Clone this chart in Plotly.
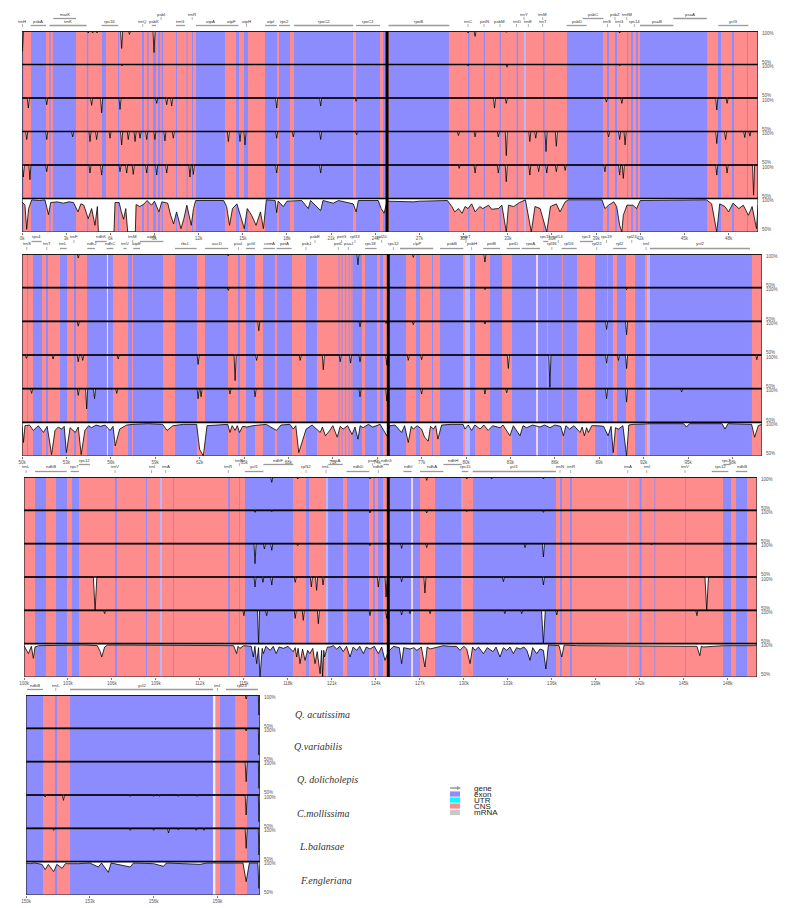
import plotly.graph_objects as go

# window geometry (reference pixels); body margin is removed by post_script
W, H = 800, 908
OX, OY = 0, 0
FW, FH = W - 2 * OX, H - 2 * OY

PINK = "#FF8C8C"
BLUE = "#8C8CFF"
LIGHT = "#B8B8FF"
PALE = "#EEEEFF"

SPECIES = ["Q. acutissima", "Q.variabilis", "Q. dolicholepis", "C.mollissima", "L.balansae", "F.engleriana"]

# ---------------- exon / light regions (kb) ----------------
P1_EXON = [(0.0, 0.1), (0.61, 1.63), (1.85, 1.95), (2.1, 3.67), (4.4, 4.5), (5.43, 5.7), (6.52, 6.6), (8.15, 8.29),
           (8.5, 8.6), (8.9, 9.1), (9.24, 9.38), (9.48, 9.58), (10.46, 10.53), (11.18, 11.25), (11.55, 11.62),
           (11.82, 13.79), (14.54, 14.74), (15.08, 15.35), (16.51, 17.32), (17.46, 18.2), (18.48, 22.49),
           (22.69, 24.32), (24.52, 24.73), (24.93, 29.0), (30.3, 30.4), (31.37, 31.45), (32.45, 32.53),
           (33.6, 33.7), (35.4, 35.5), (37.02, 39.47), (39.74, 39.88), (40.28, 40.42), (41.1, 41.18),
           (41.37, 41.51), (41.71, 41.85), (41.98, 46.54), (47.28, 47.49), (48.23, 48.37), (49.25, 49.32)]
P1_LIGHT = [(34.1, 34.24)]
P1_PALE = []

P2_EXON = [(50.34, 50.41), (50.74, 51.35), (51.62, 51.76), (52.57, 53.04), (53.51, 53.65), (54.39, 55.74),
           (55.8, 56.15), (57.16, 57.43), (57.5, 59.53), (60.34, 61.82), (62.36, 63.92), (64.59, 64.73),
           (65.14, 65.74), (66.28, 67.09), (67.23, 68.24), (69.19, 69.93), (71.39, 71.46), (71.59, 71.66),
           (71.83, 71.9), (72.06, 72.13), (72.26, 72.33), (72.36, 72.97), (73.18, 73.99), (74.19, 74.39),
           (74.86, 75.95), (76.62, 76.89), (77.7, 77.77), (78.24, 79.8), (80.27, 80.61), (81.62, 82.43),
           (83.11, 84.75), (84.85, 85.47), (85.54, 86.49), (86.55, 87.5), (88.72, 89.53), (89.59, 89.93),
           (90.2, 90.81), (91.42, 92.09), (92.43, 99.32)]
P2_LIGHT = [(79.93, 80.27), (92.23, 92.43)]
P2_PALE = [(55.74, 55.8), (84.75, 84.85)]

P3_EXON = [(100.75, 101.5), (102.18, 102.93), (103.27, 103.75), (106.21, 106.34), (108.32, 108.39),
           (110.16, 110.23), (113.92, 114.05), (114.67, 114.73), (115.07, 118.35), (119.24, 119.44),
           (120.74, 121.76), (122.03, 123.53), (123.81, 123.94), (124.15, 124.49), (124.97, 126.42),
           (126.52, 127.01), (128.04, 129.88), (130.63, 136.29), (136.56, 136.7), (137.24, 137.38),
           (141.99, 142.13), (143.0, 143.06), (145.09, 145.16), (147.68, 148.23), (148.57, 149.32)]
P3_LIGHT = [(109.28, 109.41), (120.6, 120.74), (141.17, 141.24), (129.84, 129.9)]
P3_PALE = [(126.42, 126.52)]

P4_EXON = [(150.0, 150.8), (151.36, 151.46), (152.07, 158.79), (159.12, 159.83), (160.39, 161.0)]
P4_LIGHT = []
P4_PALE = [(158.79, 158.9)]

# ---------------- identity curves: dips (kb, identity%[, half-width]) ----------------
P1_T1 = [(0.03, 70), (4.5, 97), (4.8, 97), (5.1, 97), (6.77, 74), (7.3, 95), (8.97, 68), (30.3, 97), (30.78, 92),
         (32.9, 98), (40.6, 97)]
P1_T2 = [(6.8, 98), (30.3, 98), (32.95, 96), (40.6, 98)]
P1_T3 = [(0.43, 85), (1.68, 90), (4.73, 89), (5.41, 78), (6.66, 83), (9.15, 92), (9.83, 90), (10.17, 88),
         (17.3, 85), (20.29, 88), (22.7, 95), (32.1, 85), (32.9, 92), (39.7, 94), (40.75, 92), (47.2, 82),
         (47.9, 92)]
P1_T4 = [(0.32, 88), (1.68, 88), (3.44, 92), (4.62, 85), (5.07, 88), (5.98, 90), (6.77, 80), (7.22, 88),
         (7.68, 85), (8.02, 90), (8.47, 88), (9.03, 88), (9.71, 86), (10.28, 90), (14.02, 85), (14.81, 85),
         (15.15, 80), (17.3, 90), (18.43, 92), (20.29, 88), (22.73, 95), (29.65, 94), (30.78, 92), (32.36, 92),
         (32.9, 64), (34.5, 85), (34.9, 90), (35.6, 70), (36.3, 78), (39.85, 92), (40.6, 88), (40.97, 80),
         (47.2, 82), (47.8, 88), (49.1, 91), (49.45, 93)]
P1_T5 = [(0.09, 82), (0.54, 78), (1.68, 90), (4.62, 88), (5.41, 85), (6.66, 90), (7.11, 88), (7.56, 86),
         (8.47, 88), (9.15, 85), (9.83, 88), (11.41, 82), (11.64, 86), (17.3, 88), (20.29, 88), (29.7, 95),
         (30.78, 88), (32.36, 88), (32.9, 75), (34.5, 85), (35.1, 90), (35.65, 88), (36.3, 90), (36.9, 92),
         (39.6, 90), (40.6, 85), (40.85, 80), (47.2, 85), (47.9, 88), (49.7, 55)]
# bottom track: explicit polyline (kb, identity%)
P1_T6 = [(0, 95), (0.2, 90), (0.32, 54), (0.45, 85), (0.66, 98), (1.2, 97), (1.56, 98), (1.8, 76), (1.95, 94),
         (2.4, 95), (2.8, 93), (3.2, 95), (3.5, 94), (3.8, 80), (4.0, 92), (4.2, 90), (4.5, 70), (4.73, 85),
         (4.96, 60), (5.12, 88), (5.19, 50), (6.25, 50), (6.32, 94), (6.6, 94), (6.75, 80), (6.9, 69),
         (7.05, 85), (7.18, 50), (7.7, 50), (7.75, 91), (8.0, 88), (8.3, 92), (8.5, 97), (8.8, 90), (9.0, 96),
         (9.3, 80), (9.5, 95), (9.9, 93), (10.1, 75), (10.3, 62), (10.5, 80), (10.8, 55), (11.0, 70),
         (11.2, 90), (11.5, 60), (11.65, 85), (11.8, 97), (12.5, 97), (13.0, 96), (13.7, 97), (13.9, 88),
         (14.1, 60), (14.3, 85), (14.6, 92), (14.9, 70), (15.1, 55), (15.3, 85), (15.6, 75), (15.9, 60),
         (16.2, 80), (16.4, 55), (16.6, 98), (17.2, 97), (17.3, 79), (17.4, 96), (17.75, 88), (18.0, 96),
         (19.0, 97), (19.45, 85), (19.6, 97), (20.29, 82), (20.45, 97), (21.15, 93), (21.5, 97), (22.5, 92),
         (22.7, 80), (22.85, 97), (24.2, 97), (24.4, 85), (24.6, 78), (24.8, 96), (26.6, 95), (27.0, 96),
         (28.9, 97), (29.2, 88), (29.4, 80), (29.65, 85), (29.9, 78), (30.1, 88), (30.3, 85), (30.55, 92),
         (30.78, 80), (31.1, 88), (31.3, 85), (31.7, 90), (31.9, 84), (32.36, 85), (32.6, 90), (32.9, 50),
         (33.05, 90), (33.4, 88), (33.8, 94), (34.2, 98), (34.6, 50), (34.85, 88), (35.2, 85), (35.65, 50),
         (35.9, 88), (36.3, 92), (36.55, 80), (36.9, 95), (37.1, 98), (39.4, 98), (39.6, 85), (39.85, 90),
         (40.2, 95), (40.4, 88), (40.6, 60), (40.75, 50), (40.85, 75), (41.1, 90), (41.5, 90), (41.75, 85),
         (42.0, 97), (46.5, 98), (46.85, 92), (47.2, 50), (47.4, 92), (47.75, 88), (48.0, 80), (48.3, 93),
         (48.7, 85), (49.0, 90), (49.35, 75), (49.6, 88), (49.9, 55), (50.0, 90)]

P2_T1 = [(53.8, 94), (63.94, 97), (72.7, 84), (76.44, 95), (81.28, 88)]
P2_T2 = [(61.9, 98), (63.94, 96), (81.28, 97), (90.85, 97)]
P2_T3 = [(53.8, 93), (66.0, 86), (72.84, 92), (74.6, 97), (76.44, 95), (81.28, 96), (89.5, 88), (90.85, 80)]
P2_T4 = [(50.3, 95), (52.1, 94), (53.8, 90), (54.1, 92), (56.5, 94), (61.9, 86), (64.4, 62), (65.85, 92),
         (68.8, 92), (70.36, 78), (71.5, 90), (72.2, 88), (72.84, 90), (74.65, 85), (76.1, 92), (77.0, 93),
         (82.86, 80), (85.67, 52), (89.5, 88), (90.3, 92), (90.85, 80), (99.65, 93)]
P2_T5 = [(50.65, 93), (53.8, 90), (54.37, 70), (54.9, 85), (56.4, 93), (61.9, 85), (62.1, 88), (64.05, 92),
         (65.75, 88), (72.84, 88), (74.65, 82), (77.0, 92), (81.28, 92), (82.75, 94), (89.5, 85), (90.85, 80),
         (94.57, 95)]
P2_T6 = [(50.0, 95), (50.1, 70), (50.2, 95), (50.5, 96), (50.77, 88), (51.1, 95), (51.45, 85), (51.7, 94),
         (52.0, 52), (52.23, 88), (52.45, 93), (52.68, 90), (52.85, 94), (53.0, 55), (53.25, 92), (53.6, 85),
         (53.8, 93), (54.0, 52), (54.25, 88), (54.5, 95), (54.7, 92), (55.0, 96), (55.3, 94), (55.6, 96),
         (55.95, 88), (56.15, 94), (56.3, 65), (56.6, 90), (57.07, 96), (57.5, 97), (58.5, 98), (59.5, 97),
         (59.8, 88), (60.2, 95), (60.9, 97), (61.8, 97), (62.0, 60), (62.25, 50), (62.5, 95), (63.15, 96),
         (63.9, 97), (64.05, 85), (64.2, 95), (64.4, 88), (64.55, 95), (64.7, 85), (64.9, 94), (65.2, 93),
         (65.6, 95), (66.5, 97), (67.2, 88), (67.5, 96), (68.1, 97), (68.33, 90), (68.5, 95), (68.7, 55),
         (68.9, 70), (69.2, 90), (69.6, 96), (70.15, 85), (70.3, 93), (70.5, 80), (70.8, 88), (71.0, 95),
         (71.3, 78), (71.5, 94), (71.7, 90), (72.0, 95), (72.3, 82), (72.5, 93), (72.7, 75), (72.85, 95),
         (73.05, 92), (73.4, 97), (73.7, 93), (74.2, 97), (74.65, 80), (74.85, 95), (75.2, 96), (75.65, 85),
         (75.85, 95), (76.1, 70), (76.3, 94), (76.44, 90), (76.7, 95), (77.0, 90), (77.2, 78), (77.45, 72),
         (77.6, 94), (77.8, 90), (77.95, 95), (78.1, 75), (78.35, 96), (79.0, 97), (79.8, 97), (79.93, 90),
         (80.15, 96), (80.38, 88), (80.6, 96), (80.95, 90), (81.2, 96), (81.5, 88), (81.8, 95), (82.3, 92),
         (82.5, 96), (82.75, 88), (82.97, 80), (83.2, 95), (83.65, 80), (83.85, 95), (84.1, 92), (84.5, 96),
         (85.0, 93), (85.3, 96), (85.67, 92), (86.0, 96), (86.4, 94), (86.58, 80), (86.75, 95), (87.0, 90),
         (87.3, 95), (87.7, 85), (87.85, 93), (88.0, 80), (88.15, 92), (88.27, 85), (88.5, 95), (88.9, 95),
         (89.3, 94), (89.6, 80), (89.8, 94), (89.95, 55), (90.1, 92), (90.3, 90), (90.6, 95), (90.85, 50),
         (91.0, 96), (91.3, 97), (92.5, 98), (94.7, 98), (94.9, 93), (95.1, 98), (97.3, 98), (97.5, 90),
         (97.7, 98), (99.3, 97), (99.5, 78), (99.75, 95), (100.0, 97)]

P3_T1 = [(116.9, 92), (118.67, 97), (123.6, 97), (127.47, 95), (130.2, 97), (131.9, 97), (135.43, 97)]
P3_T2 = [(115.76, 97), (116.9, 98), (123.6, 96), (127.47, 96), (130.2, 98), (135.43, 97)]
P3_T3 = [(115.76, 70), (116.4, 92), (116.9, 90), (118.67, 97), (123.6, 97), (125.76, 93), (127.47, 94),
         (134.18, 94), (135.43, 80), (142.8, 98)]
P3_T4 = [(104.85, 50, 0.12), (115.76, 85), (116.3, 92), (116.9, 88), (118.5, 92), (119.6, 85), (119.96, 80),
         (120.4, 88), (124.17, 85), (124.7, 70), (125.76, 93), (127.35, 76), (132.7, 93), (135.43, 88),
         (146.57, 50, 0.12)]
P3_T5 = [(105.5, 95), (115.0, 92), (116.0, 50), (116.55, 92), (118.5, 88), (119.05, 85), (120.08, 80),
         (123.6, 92), (124.74, 88), (125.76, 93), (126.33, 95), (127.7, 95), (132.8, 95), (133.95, 95),
         (135.43, 50, 0.13), (136.34, 93), (145.9, 92)]
P3_T6 = [(100.0, 97), (100.3, 85), (100.5, 96), (100.64, 78), (100.75, 95), (101.0, 97), (104.0, 98),
         (105.0, 97), (105.2, 88), (105.3, 80), (105.5, 95), (105.7, 98), (114.3, 97), (114.5, 85), (114.6, 96),
         (114.73, 93), (115.0, 97), (115.5, 96), (115.64, 80), (115.75, 96), (115.87, 70), (116.0, 94),
         (116.1, 50), (116.25, 93), (116.33, 85), (116.5, 96), (116.8, 90), (117.0, 96), (117.2, 85),
         (117.4, 95), (117.7, 93), (118.0, 96), (118.37, 88), (118.5, 94), (118.6, 80), (118.7, 93),
         (118.83, 70), (119.0, 92), (119.17, 75), (119.35, 90), (119.5, 85), (119.7, 93), (119.85, 70),
         (120.0, 88), (120.2, 55), (120.3, 90), (120.37, 50), (120.45, 90), (120.5, 80), (120.7, 95),
         (120.87, 95), (121.1, 97), (121.33, 92), (121.55, 96), (121.78, 88), (122.0, 96), (122.24, 80),
         (122.45, 95), (122.7, 90), (122.9, 96), (123.15, 85), (123.35, 95), (123.6, 92), (123.9, 96),
         (124.17, 85), (124.4, 95), (124.62, 75), (124.85, 88), (125.2, 96), (125.6, 94), (125.76, 70),
         (125.9, 94), (126.33, 92), (126.6, 94), (126.8, 90), (127.1, 95), (127.35, 65), (127.5, 95),
         (127.7, 92), (128.15, 95), (128.6, 97), (129.06, 96), (129.5, 96), (129.74, 90), (130.0, 96),
         (130.2, 92), (130.43, 70), (130.6, 95), (130.77, 90), (131.0, 95), (131.34, 85), (131.6, 94),
         (132.0, 88), (132.2, 95), (132.47, 80), (132.7, 94), (132.93, 90), (133.15, 95), (133.38, 85),
         (133.6, 94), (133.84, 92), (134.1, 95), (134.3, 90), (134.52, 75), (134.7, 94), (134.97, 85),
         (135.2, 92), (135.43, 90), (135.6, 62), (135.77, 98), (136.5, 97), (136.68, 80), (136.85, 98),
         (137.7, 97), (139.75, 97), (141.8, 96), (143.27, 97), (145.9, 96), (146.1, 82), (146.2, 96),
         (146.34, 95), (147.7, 97), (149.75, 97), (150.0, 98)]

P4_T1 = [(160.35, 94), (160.95, 70, 0.03)]
P4_T2 = [(160.35, 96), (160.95, 60, 0.03)]
P4_T3 = [(160.35, 70), (160.95, 60, 0.03)]
P4_T4 = [(150.9, 97), (151.76, 92), (154.9, 98), (156.0, 98), (156.27, 98), (157.16, 98), (158.05, 98),
         (160.35, 70), (160.95, 60, 0.03)]
P4_T5 = [(151.3, 97), (154.9, 97), (156.0, 97), (156.7, 93), (157.16, 98), (158.0, 97), (158.37, 97),
         (160.35, 70), (160.95, 60, 0.03)]
P4_T6 = [(150.0, 98), (150.2, 97), (150.4, 98), (150.75, 96), (150.9, 88), (151.05, 96), (151.3, 85),
         (151.45, 96), (151.7, 90), (151.85, 97), (152.46, 97), (153.0, 98), (153.4, 92), (153.55, 98),
         (153.87, 84), (154.0, 98), (154.9, 92), (155.05, 98), (156.0, 97), (156.46, 93), (156.6, 98),
         (157.5, 97), (158.18, 96), (158.5, 98), (159.2, 98), (160.2, 98), (160.35, 70), (160.5, 98),
         (160.9, 98), (160.95, 60), (161.0, 95)]

# ---------------- tick labels (kb) ----------------
P1_TICKS = [0, 3, 6, 9, 12, 15, 18, 21, 24, 27, 30, 33, 36, 39, 42, 45, 48]
P2_TICKS = [50, 53, 56, 59, 62, 65, 68, 71, 74, 77, 80, 83, 86, 89, 92, 95, 98]
P3_TICKS = [100, 103, 106, 109, 112, 115, 118, 121, 124, 127, 130, 133, 136, 139, 142, 145, 148]
P4_TICKS = [150, 153, 156, 159]

# ---------------- gene annotations (name, start kb, end kb, row) ----------------
P1_GENES = [("trnH", 0.03, 0.03, 0), ("psbA", 0.59, 1.63, 0), ("trnK", 1.86, 4.39, 0), ("matK", 2.13, 3.67, 1),
            ("rps16", 5.41, 6.54, 0), ("trnQ", 8.2, 8.2, 0), ("psbK", 8.81, 9.1, 0), ("psbI", 9.45, 9.45, 1),
            ("trnG", 10.46, 11.07, 0), ("trnR", 11.56, 11.56, 1), ("atpA", 11.82, 13.79, 0),
            ("atpF", 13.79, 14.7, 0), ("atpH", 15.25, 15.25, 0), ("atpI", 16.51, 17.3, 0),
            ("rps2", 17.46, 18.2, 0), ("rpoC2", 18.48, 22.5, 0), ("rpoC1", 22.69, 24.32, 0),
            ("rpoB", 24.9, 29.03, 0), ("trnC", 30.3, 30.3, 0), ("petN", 31.39, 31.39, 0),
            ("psbM", 32.47, 32.47, 0), ("trnD", 33.6, 33.6, 0), ("trnY", 34.1, 34.1, 1), ("trnE", 34.4, 34.4, 0),
            ("trnT", 35.37, 35.37, 0), ("trnM", 35.37, 35.37, 1), ("psbD", 37.0, 38.36, 0),
            ("psbC", 38.09, 39.5, 1), ("trnS", 39.77, 39.77, 0), ("psbZ", 40.29, 40.29, 1),
            ("trnG", 40.6, 40.6, 0), ("trnfM", 41.08, 41.08, 1), ("rps14", 41.6, 41.6, 0),
            ("psaB", 41.98, 44.25, 0), ("psaA", 44.25, 46.52, 1), ("ycf3", 47.3, 49.35, 0)]
P2_GENES = [("trnS", 50.32, 50.32, 0), ("rps4", 50.65, 51.33, 1), ("trnT", 51.67, 51.67, 0),
            ("trnL", 52.57, 53.02, 0), ("trnF", 53.51, 53.51, 1), ("ndhJ", 54.41, 54.93, 0),
            ("ndhK", 54.93, 55.72, 1), ("ndhC", 55.72, 56.17, 0), ("trnV", 56.85, 57.07, 0),
            ("trnM", 57.48, 57.48, 1), ("atpE", 57.52, 57.97, 0), ("atpB", 57.97, 59.55, 1),
            ("rbcL", 60.34, 61.8, 0), ("accD", 62.36, 63.94, 0), ("psaI", 64.62, 64.62, 0),
            ("ycf4", 65.14, 65.74, 0), ("cemA", 66.31, 67.09, 0), ("petA", 67.2, 68.22, 0),
            ("psbJ", 69.19, 69.19, 0), ("psbE", 69.8, 69.8, 1), ("petL", 71.37, 71.37, 0),
            ("petG", 71.6, 71.6, 1), ("psaJ", 72.05, 72.05, 0), ("rpl33", 72.5, 72.5, 1),
            ("rps18", 73.18, 73.96, 0), ("rpl20", 74.3, 74.3, 1), ("rps12", 75.09, 75.09, 0),
            ("clpP", 75.54, 77.79, 0), ("psbB", 78.24, 79.82, 0), ("psbT", 80.0, 80.0, 1),
            ("psbH", 80.38, 80.38, 0), ("petB", 81.17, 82.3, 0), ("petD", 82.75, 83.65, 0),
            ("rpoA", 83.76, 85.0, 0), ("rps11", 85.22, 85.56, 1), ("rpl36", 85.8, 85.8, 0),
            ("rpl14", 86.24, 86.24, 1), ("rpl16", 86.46, 87.48, 0), ("rps3", 87.7, 88.6, 1),
            ("rpl22", 88.83, 88.83, 0), ("rps19", 89.5, 89.5, 1), ("rpl2", 89.95, 90.85, 0),
            ("rpl23", 91.2, 91.2, 1), ("trnI", 92.16, 92.16, 0), ("ycf2", 92.43, 99.19, 0)]
P3_GENES = [("trnL", 100.14, 100.14, 0), ("ndhB", 100.75, 102.91, 0), ("rps7", 103.18, 103.75, 0),
            ("rps12", 103.75, 104.5, 1), ("trnV", 106.21, 106.21, 0), ("trnI", 108.7, 108.7, 0),
            ("trnA", 109.66, 109.66, 0), ("trnR", 113.94, 113.94, 0), ("trnN", 114.69, 114.69, 1),
            ("ycf1", 115.07, 116.33, 0), ("ndhF", 116.33, 118.37, 1), ("rpl32", 119.24, 119.24, 0),
            ("trnL", 120.6, 120.6, 0), ("ccsA", 120.76, 121.74, 1), ("ndhD", 122.0, 123.56, 0),
            ("psaC", 123.78, 123.78, 1), ("ndhE", 124.17, 124.17, 0), ("ndhG", 124.51, 124.9, 1),
            ("ndhI", 125.88, 126.45, 0), ("ndhA", 127.01, 128.61, 0), ("ndhH", 128.61, 129.86, 1),
            ("rps15", 129.86, 130.31, 0), ("ycf1", 130.61, 136.29, 0), ("trnN", 136.56, 136.56, 0),
            ("trnR", 137.29, 137.29, 0), ("trnA", 141.18, 141.18, 0), ("trnI", 142.48, 142.48, 0),
            ("trnV", 145.09, 145.09, 0), ("rps12", 146.91, 148.05, 0), ("rps7", 147.7, 148.2, 1),
            ("ndhB", 148.55, 149.34, 0)]
P4_GENES = [("ndhB", 150.05, 150.8, 0), ("trnL", 151.4, 151.4, 0), ("ycf2", 152.07, 158.79, 0),
            ("trnI", 159.0, 159.0, 0), ("rpl23", 159.4, 160.9, 0)]

LEGEND_ITEMS = ["gene", "exon", "UTR", "CNS", "mRNA"]
LEGEND_COLORS = ["#9A9A9A", "#8C8CFF", "#00FFFF", "#FF8C8C", "#C8C8C8"]

# ---------------- layout geometry (window pixels) ----------------
PANELS = [
    dict(k=(0, 50), px=(22, 758), py=(31, 232), exon=P1_EXON, light=P1_LIGHT, pale=P1_PALE,
         dips=[P1_T1, P1_T2, P1_T3, P1_T4, P1_T5], poly=P1_T6, ticks=P1_TICKS, genes=P1_GENES, sep=24.8, hw=0.07),
    dict(k=(50, 100), px=(22, 762), py=(254, 456), exon=P2_EXON, light=P2_LIGHT, pale=P2_PALE,
         dips=[P2_T1, P2_T2, P2_T3, P2_T4, P2_T5], poly=P2_T6, ticks=P2_TICKS, genes=P2_GENES, sep=74.75, hw=0.07),
    dict(k=(100, 150), px=(24, 757), py=(477, 677), exon=P3_EXON, light=P3_LIGHT, pale=P3_PALE,
         dips=[P3_T1, P3_T2, P3_T3, P3_T4, P3_T5], poly=P3_T6, ticks=P3_TICKS, genes=P3_GENES, sep=124.85, hw=0.07),
    dict(k=(150, 161), px=(26, 260), py=(695, 895), exon=P4_EXON, light=P4_LIGHT, pale=P4_PALE,
         dips=[P4_T1, P4_T2, P4_T3, P4_T4, P4_T5], poly=P4_T6, ticks=P4_TICKS, genes=P4_GENES, sep=None, hw=0.05),
]


def X(px):
    return (px - OX) / FW


def Y(py):
    return 1 - (py - OY) / FH


fig = go.Figure()
shapes = []
annotations = []
layout_axes = {}
SMALL = dict(size=4.5, color="#555", family="Liberation Sans")


def track_y(t, v):
    return (5 - t) + (v - 50) / 50.0


for i, P in enumerate(PANELS):
    n = "" if i == 0 else str(i + 1)
    xa, ya = "x" + n, "y" + n
    k0, k1 = P["k"]
    x0, x1 = P["px"]
    y0, y1 = P["py"]
    layout_axes["xaxis" + n] = dict(domain=[X(x0), X(x1)], range=[k0, k1], anchor=ya, showgrid=False,
                                    zeroline=False, showline=False, ticks="outside", ticklen=2, tickwidth=0.6,
                                    tickcolor="#777", tickvals=P["ticks"],
                                    ticktext=[f"{t}k" for t in P["ticks"]], tickfont=SMALL, automargin=False)
    layout_axes["yaxis" + n] = dict(domain=[Y(y1), Y(y0)], range=[0, 6], anchor=xa, showgrid=False,
                                    zeroline=False, showline=False, showticklabels=False, fixedrange=True,
                                    automargin=False)
    # background
    shapes.append(dict(type="rect", xref=xa, yref=ya, x0=k0, x1=k1, y0=0, y1=6, fillcolor=PINK,
                       line=dict(width=0), layer="below"))
    for key, col in (("exon", BLUE), ("light", LIGHT), ("pale", PALE)):
        for (a, b) in P[key]:
            shapes.append(dict(type="rect", xref=xa, yref=ya, x0=a, x1=b, y0=0, y1=6, fillcolor=col,
                               line=dict(width=0), layer="below"))

    # identity curves with white area above them
    for t in range(6):
        if t < 5:
            pts = [(k0, 100)]
            for d in sorted(P["dips"][t]):
                p, v = d[0], d[1]
                hw = d[2] if len(d) > 2 else P["hw"]
                pts += [(p - hw, 100), (p, v), (p + hw, 100)]
            pts.append((k1, 100))
        else:
            pts = list(P["poly"])
        xs = [max(k0, min(k1, p[0])) for p in pts]
        ys = [track_y(t, p[1]) for p in pts]
        top = track_y(t, 100)
        fig.add_trace(go.Scatter(x=xs + [xs[-1], xs[0]], y=ys + [top, top], xaxis=xa, yaxis=ya,
                                 mode="lines", fill="toself", fillcolor="white", line=dict(width=0),
                                 hoverinfo="skip", showlegend=False))
        fig.add_trace(go.Scatter(x=xs, y=ys, xaxis=xa, yaxis=ya, mode="lines",
                                 line=dict(color="black", width=0.8), hoverinfo="skip", showlegend=False))

    # track separators and frame
    for j in range(1, 7):
        shapes.append(dict(type="line", xref=xa, yref=ya, x0=k0, x1=k1, y0=j, y1=j,
                           line=dict(color="black", width=1.6)))
    shapes.append(dict(type="rect", xref=xa, yref=ya, x0=k0, x1=k1, y0=0, y1=6,
                       line=dict(color="#222", width=1.2)))
    if P["sep"] is not None:
        shapes.append(dict(type="line", xref=xa, yref=ya, x0=P["sep"], x1=P["sep"], y0=0, y1=6,
                           line=dict(color="black", width=3)))

    # right percent labels
    th = (y1 - y0) / 6.0
    for j in range(7):
        yy = y0 + j * th
        if j < 6:
            annotations.append(dict(text="100%", x=X(x1 + 2), y=Y(yy + 2.3), xref="paper", yref="paper",
                                    xanchor="left", yanchor="middle", showarrow=False, font=SMALL))
        if j > 0:
            annotations.append(dict(text="50%", x=X(x1 + 2), y=Y(yy - 2.3), xref="paper", yref="paper",
                                    xanchor="left", yanchor="middle", showarrow=False, font=SMALL))

    # gene annotations
    for (name, a, b, row) in P["genes"]:
        bar_y = y0 - 5.5 - 7 * row
        lab_y = y0 - 10 - 7 * row
        if b - a > 0.2:
            shapes.append(dict(type="line", xref=xa, yref="paper", x0=a, x1=b, y0=Y(bar_y), y1=Y(bar_y),
                               line=dict(color="#9A9A9A", width=1.3)))
        else:
            shapes.append(dict(type="line", xref=xa, yref="paper", x0=a, x1=a, y0=Y(bar_y - 1.5),
                               y1=Y(bar_y + 1.5), line=dict(color="#9A9A9A", width=0.8)))
        annotations.append(dict(text=name, x=(a + b) / 2, y=Y(lab_y), xref=xa, yref="paper",
                                xanchor="center", yanchor="middle", showarrow=False,
                                font=dict(size=4.3, color="#333", family="Liberation Sans")))

# species labels
SPECIES_Y = [714, 746, 779, 813, 846, 880]
SPECIES_X = [322, 318, 327, 323, 322, 326]
for name, sx, sy in zip(SPECIES, SPECIES_X, SPECIES_Y):
    annotations.append(dict(text=f"<i>{name}</i>", x=X(sx), y=Y(sy), xref="paper", yref="paper",
                            xanchor="center", yanchor="middle", showarrow=False,
                            font=dict(size=10, color="#333", family="Liberation Serif")))

# legend
LEG_Y = [788, 794, 800, 806, 812.5]
for k, (lab, col, ly) in enumerate(zip(LEGEND_ITEMS, LEGEND_COLORS, LEG_Y)):
    if k == 0:
        path = (f"M {X(450)},{Y(ly - 0.8)} L {X(457)},{Y(ly - 0.8)} L {X(457)},{Y(ly - 2)} "
                f"L {X(461)},{Y(ly)} L {X(457)},{Y(ly + 2)} L {X(457)},{Y(ly + 0.8)} L {X(450)},{Y(ly + 0.8)} Z")
        shapes.append(dict(type="path", xref="paper", yref="paper", path=path, fillcolor=col,
                           line=dict(width=0)))
    else:
        shapes.append(dict(type="rect", xref="paper", yref="paper", x0=X(450), x1=X(460),
                           y0=Y(ly + 2.6), y1=Y(ly - 2.6), fillcolor=col, line=dict(width=0)))
    annotations.append(dict(text=lab, x=X(472), y=Y(ly), xref="paper", yref="paper", xanchor="left",
                            yanchor="middle", showarrow=False,
                            font=dict(size=8, color="#222", family="Liberation Sans")))

fig.update_layout(width=FW, height=FH, margin=dict(l=0, r=0, t=0, b=0), paper_bgcolor="white",
                  plot_bgcolor="white", showlegend=False, shapes=shapes, annotations=annotations,
                  **layout_axes)

fig.write_html("out.html", config={"displayModeBar": False},
               post_script="document.body.style.margin='0';document.body.style.overflow='hidden';")
